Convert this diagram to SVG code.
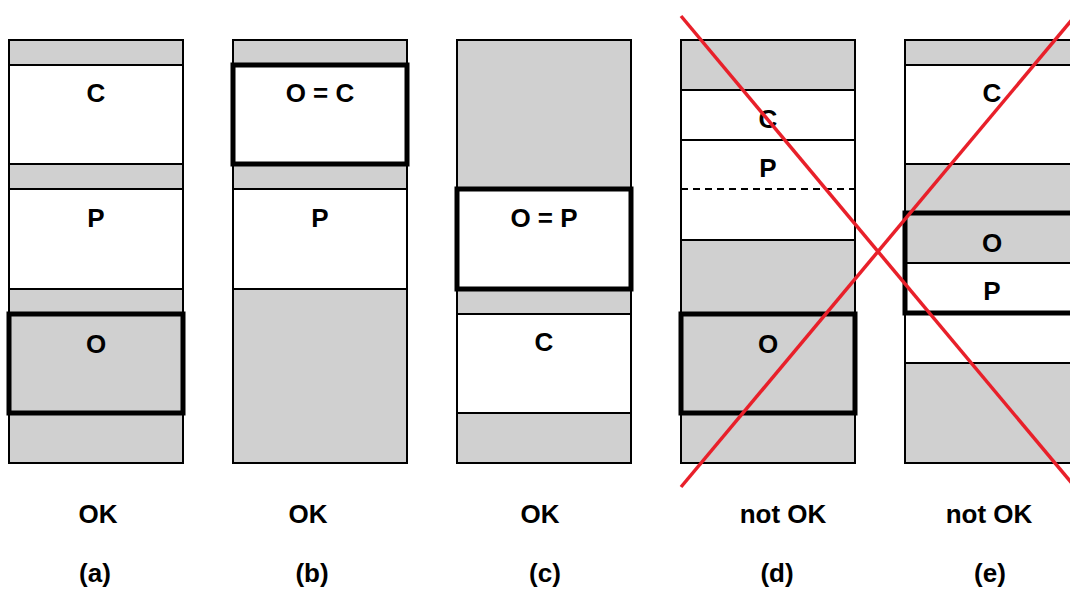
<svg xmlns="http://www.w3.org/2000/svg" width="1070" height="589" viewBox="0 0 1070 589">
<style>
.g{fill:#d0d0d0;stroke:#000;stroke-width:2}
.w{fill:#fff;stroke:#000;stroke-width:2}
.t{fill:none;stroke:#000;stroke-width:5}
.tw{fill:#fff;stroke:#000;stroke-width:5}
.l{font-family:"Liberation Sans",Arial,sans-serif;font-weight:bold;font-size:26px;text-anchor:middle;fill:#000}
.x{stroke:#e8202a;stroke-width:3.5;fill:none}
</style>
<rect width="1070" height="589" fill="#fff"/>
<g id="col-a">
<rect class="g" x="9" y="40" width="174" height="423"/>
<rect class="w" x="9" y="65" width="174" height="99"/>
<rect class="w" x="9" y="189" width="174" height="100"/>
<rect class="t" x="9" y="314" width="174" height="99"/>
<text class="l" x="96" y="102">C</text>
<text class="l" x="96" y="227">P</text>
<text class="l" x="96" y="353">O</text>
<text class="l" x="98" y="523">OK</text>
<text class="l" x="95" y="582">(a)</text>
</g>
<g id="col-b">
<rect class="g" x="233" y="40" width="174" height="423"/>
<rect class="tw" x="233" y="65" width="174" height="99"/>
<rect class="w" x="233" y="189" width="174" height="100"/>
<text class="l" x="320" y="102">O = C</text>
<text class="l" x="320" y="227">P</text>
<text class="l" x="308" y="523">OK</text>
<text class="l" x="312" y="582">(b)</text>
</g>
<g id="col-c">
<rect class="g" x="457" y="40" width="174" height="423"/>
<rect class="tw" x="457" y="189" width="174" height="100"/>
<rect class="w" x="457" y="314" width="174" height="99"/>
<text class="l" x="544" y="227">O = P</text>
<text class="l" x="544" y="351">C</text>
<text class="l" x="540" y="523">OK</text>
<text class="l" x="545" y="582">(c)</text>
</g>
<g id="col-d">
<rect class="g" x="681" y="40" width="174" height="423"/>
<rect class="w" x="681" y="90" width="174" height="50"/>
<rect class="w" x="681" y="140" width="174" height="100"/>
<line x1="681" y1="189" x2="855" y2="189" stroke="#000" stroke-width="2" stroke-dasharray="7,5"/>
<rect class="t" x="681" y="314" width="174" height="99"/>
<text class="l" x="768" y="128">C</text>
<text class="l" x="768" y="177">P</text>
<text class="l" x="768" y="353">O</text>
<text class="l" x="783" y="523">not OK</text>
<text class="l" x="777" y="582">(d)</text>
</g>
<g id="col-e">
<rect class="g" x="905" y="40" width="174" height="423"/>
<rect class="w" x="905" y="65" width="174" height="99"/>
<rect class="w" x="905" y="263" width="174" height="100"/>
<rect class="t" x="905" y="213" width="174" height="100"/>
<line x1="905" y1="263" x2="1079" y2="263" stroke="#000" stroke-width="2"/>
<text class="l" x="992" y="102">C</text>
<text class="l" x="992" y="252">O</text>
<text class="l" x="992" y="300">P</text>
<text class="l" x="989" y="523">not OK</text>
<text class="l" x="990" y="582">(e)</text>
</g>
<g id="connectors">
<line class="x" x1="681" y1="16" x2="1075" y2="487"/>
<line class="x" x1="681" y1="487" x2="1075" y2="16"/>
</g>
</svg>
